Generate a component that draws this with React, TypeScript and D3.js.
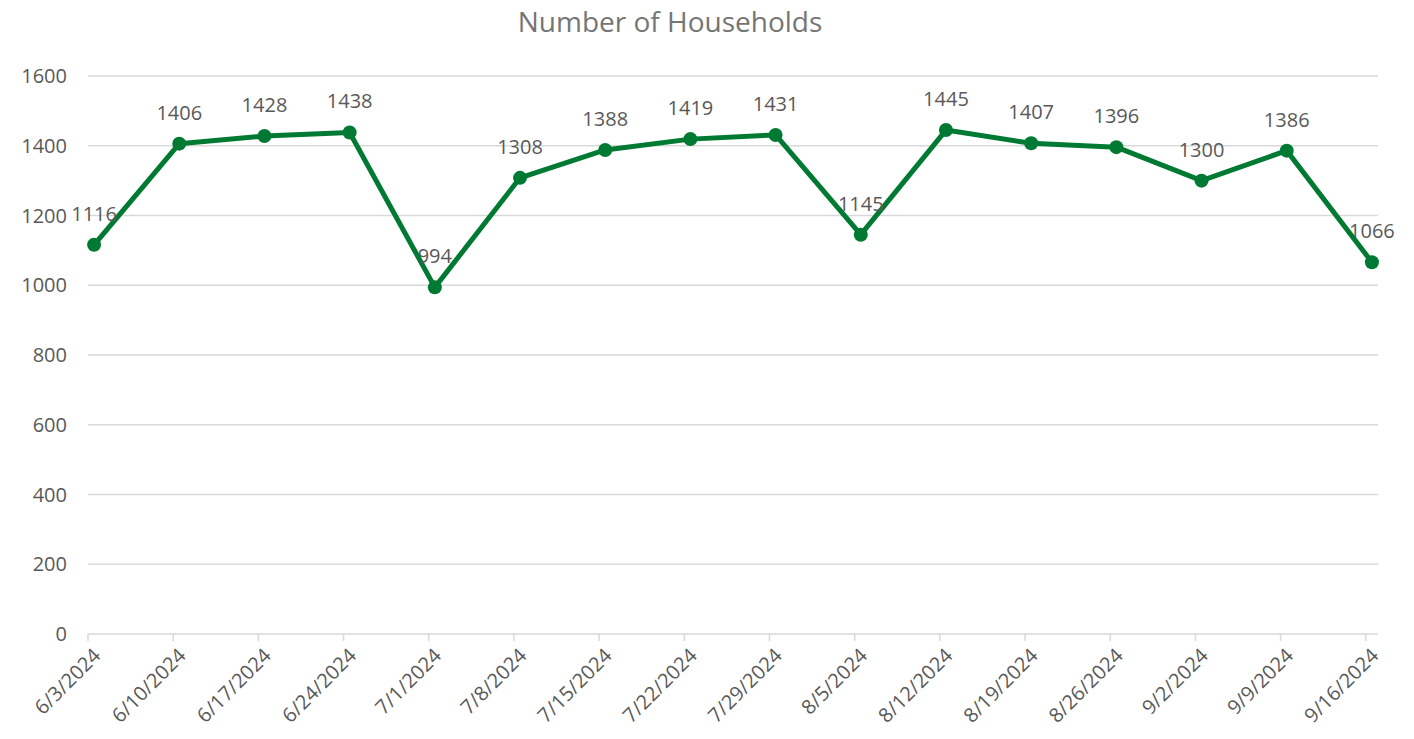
import React, { useRef, useEffect } from 'react';
import * as d3 from 'd3';

const dates = [
  '6/3/2024', '6/10/2024', '6/17/2024', '6/24/2024', '7/1/2024', '7/8/2024', '7/15/2024', '7/22/2024',
  '7/29/2024', '8/5/2024', '8/12/2024', '8/19/2024', '8/26/2024', '9/2/2024', '9/9/2024', '9/16/2024',
];
const households = [1116, 1406, 1428, 1438, 994, 1308, 1388, 1419, 1431, 1145, 1445, 1407, 1396, 1300, 1386, 1066];
const yTicks = [0, 200, 400, 600, 800, 1000, 1200, 1400, 1600];

const App: React.FC = () => {
  const svgRef = useRef<SVGSVGElement | null>(null);

  useEffect(() => {
    if (!svgRef.current) return;
    const w = 1414;
    const h = 739;
    const font = '"Open Sans", "Liberation Sans", sans-serif';
    const grey = '#595959';
    const green = '#007A33';

    const svg = d3.select(svgRef.current).attr('width', w).attr('height', h);
    svg.selectAll('*').remove();

    const parse = d3.timeParse('%m/%d/%Y');
    const days = dates.map((d) => parse(d) as Date);
    const end = d3.timeDay.offset(days[days.length - 1], 1);

    // date axis: one slot per day, points sit in the middle of their day
    const x = d3.scaleTime().domain([days[0], end]).range([88, 1378]);
    const y = d3.scaleLinear().domain([0, 1600]).range([634, 76]);
    const mid = (d: Date) => x(d3.timeHour.offset(d, 12));

    svg
      .append('text')
      .attr('x', 670)
      .attr('y', 32)
      .attr('text-anchor', 'middle')
      .attr('font-family', font)
      .attr('font-size', 28)
      .attr('fill', '#757575')
      .text('Number of Households');

    svg
      .append('g')
      .selectAll('line')
      .data(yTicks.filter((t) => t > 0))
      .join('line')
      .attr('x1', 88)
      .attr('x2', 1378)
      .attr('y1', (d) => y(d))
      .attr('y2', (d) => y(d))
      .attr('stroke', '#d9d9d9')
      .attr('stroke-width', 1.5);

    svg
      .append('g')
      .selectAll('text')
      .data(yTicks)
      .join('text')
      .attr('x', 67)
      .attr('y', (d) => y(d))
      .attr('dy', '0.35em')
      .attr('text-anchor', 'end')
      .attr('font-family', font)
      .attr('font-size', 20)
      .attr('fill', grey)
      .text((d) => d);

    // x axis
    svg
      .append('line')
      .attr('x1', 88)
      .attr('x2', 1378)
      .attr('y1', y(0))
      .attr('y2', y(0))
      .attr('stroke', '#d9d9d9')
      .attr('stroke-width', 1.5);

    svg
      .append('g')
      .selectAll('line')
      .data(days)
      .join('line')
      .attr('x1', (d) => x(d))
      .attr('x2', (d) => x(d))
      .attr('y1', y(0))
      .attr('y2', y(0) + 7)
      .attr('stroke', '#d9d9d9')
      .attr('stroke-width', 1.5);

    svg
      .append('g')
      .selectAll('text')
      .data(days)
      .join('text')
      .attr('transform', (d) => `translate(${x(d) + 9}, ${y(0) + 18}) rotate(-45)`)
      .attr('text-anchor', 'end')
      .attr('dy', '0.35em')
      .attr('font-family', font)
      .attr('font-size', 20)
      .attr('fill', grey)
      .text((_, i) => dates[i]);

    const line = d3
      .line<number>()
      .x((_, i) => mid(days[i]))
      .y((d) => y(d));

    svg
      .append('path')
      .datum(households)
      .attr('d', line)
      .attr('fill', 'none')
      .attr('stroke', green)
      .attr('stroke-width', 5)
      .attr('stroke-linejoin', 'round');

    svg
      .append('g')
      .selectAll('circle')
      .data(households)
      .join('circle')
      .attr('cx', (_, i) => mid(days[i]))
      .attr('cy', (d) => y(d))
      .attr('r', 7)
      .attr('fill', green);

    svg
      .append('g')
      .selectAll('text')
      .data(households)
      .join('text')
      .attr('x', (_, i) => mid(days[i]))
      .attr('y', (d) => y(d) - 24)
      .attr('text-anchor', 'middle')
      .attr('font-family', font)
      .attr('font-size', 20)
      .attr('fill', grey)
      .text((d) => d);
  }, []);

  return <svg ref={svgRef} style={{ position: 'absolute', left: 0, top: 0 }}></svg>;
};

export default App;
